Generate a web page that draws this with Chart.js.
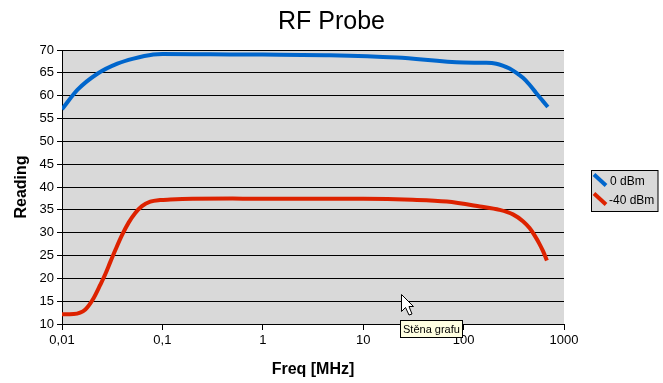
<!DOCTYPE html>
<html>
<head>
<meta charset="utf-8">
<style>html,body{margin:0;padding:0;background:#fff}canvas{display:block}</style>
<script src="https://cdn.jsdelivr.net/npm/chart.js@4"></script>
</head>
<body>
<canvas id="c" width="663" height="383"></canvas>
<script>
const chartTitle = "RF Probe";
const xTitle = "Freq [MHz]";
const yTitle = "Reading";
const tooltipText = "Stěna grafu";
const xTicks = [0.01, 0.1, 1, 10, 100, 1000];
const seriesNames = ["0 dBm", "-40 dBm"];
const seriesColors = ["#0066CC", "#DD2200"];
const freqBlue = [0.01,0.0143,0.0225,0.0356,0.0515,0.081,0.1,0.3,1,4.66,21.6,100,169,212,245,287,336,390,454,528,617,690];
const valBlue = [57,61.3,64.8,67,68.1,69,69.1,69.05,69,68.86,68.35,67.25,67.2,67,66.6,65.95,65,63.9,62.4,60.6,58.8,57.5];
const freqRed = [0.01,0.0131,0.0171,0.0207,0.0241,0.0271,0.0303,0.034,0.0397,0.0461,0.0537,0.0626,0.0758,0.095,0.12,0.2,0.5,1,10,31,68,145,228,310,390,454,509,571,617,676];
const valRed = [12.15,12.2,13.2,15.7,18.6,21,23.6,26.2,29.5,32.2,34.3,35.8,36.8,37.15,37.25,37.4,37.5,37.4,37.4,37.2,36.8,35.75,35,34,32.5,31,29.4,27.5,26,23.9];

const pairs = (xs, ys) => xs.map((x, i) => ({x, y: ys[i]}));

const decorations = {
  id: 'decorations',
  beforeDraw(chart) {
    const {ctx, chartArea: a} = chart;
    ctx.save();
    ctx.fillStyle = '#D9D9D9';
    ctx.fillRect(a.left, a.top, a.right - a.left, a.bottom - a.top);
    ctx.restore();
  },
  afterDraw(chart) {
    const {ctx} = chart;
    ctx.save();
    // legend box
    ctx.fillStyle = '#D9D9D9';
    ctx.strokeStyle = '#000';
    ctx.lineWidth = 1;
    ctx.fillRect(591.5, 170.5, 66.5, 41);
    ctx.strokeRect(591.5, 170.5, 66.5, 41);
    ctx.font = '12px "Liberation Sans"';
    ctx.textBaseline = 'middle';
    seriesNames.forEach((name, i) => {
      const y = 180 + i * 19;
      ctx.strokeStyle = seriesColors[i];
      ctx.lineWidth = 4;
      ctx.beginPath();
      ctx.moveTo(594, y - 5.5);
      ctx.lineTo(606, y + 5.5);
      ctx.stroke();
      ctx.fillStyle = '#000';
      ctx.fillText(name, i === 0 ? 610 : 609, y + 2);
    });
    // tooltip
    ctx.fillStyle = '#FFFFE1';
    ctx.strokeStyle = '#000';
    ctx.lineWidth = 1;
    ctx.fillRect(400.5, 320.5, 62, 17);
    ctx.strokeRect(400.5, 320.5, 62, 17);
    ctx.fillStyle = '#000';
    ctx.font = '11px "Liberation Sans"';
    ctx.fillText(tooltipText, 403, 330);
    // mouse cursor
    ctx.fillStyle = '#fff';
    ctx.strokeStyle = '#000';
    ctx.beginPath();
    [[401.5,294.5],[401.5,311.5],[405.5,307.5],[409,315],[412,314],[409,306.5],[413.5,306.5]]
      .forEach((p, i) => i ? ctx.lineTo(p[0], p[1]) : ctx.moveTo(p[0], p[1]));
    ctx.closePath();
    ctx.fill();
    ctx.stroke();
    ctx.restore();
  }
};

new Chart(document.getElementById('c'), {
  type: 'line',
  plugins: [decorations],
  data: {
    datasets: [
      {label: seriesNames[0], data: pairs(freqBlue, valBlue), borderColor: seriesColors[0]},
      {label: seriesNames[1], data: pairs(freqRed, valRed), borderColor: seriesColors[1]}
    ]
  },
  options: {
    responsive: false,
    animation: false,
    events: [],
    layout: {padding: 0},
    elements: {
      point: {radius: 0},
      line: {borderWidth: 4, cubicInterpolationMode: 'monotone', fill: false}
    },
    plugins: {
      legend: {display: false},
      tooltip: {enabled: false},
      title: {
        display: true,
        text: chartTitle,
        color: '#000',
        font: {family: '"Liberation Sans"', size: 25, weight: 'normal'},
        padding: {top: 7, bottom: 13}
      }
    },
    scales: {
      x: {
        type: 'logarithmic',
        min: 0.01,
        max: 1000,
        afterFit: s => { s.height = 59; },
        afterBuildTicks: s => { s.ticks = xTicks.map(v => ({value: v})); },
        grid: {drawOnChartArea: false, drawTicks: true, tickLength: 6, color: '#000', lineWidth: 1},
        border: {color: '#000', width: 1},
        ticks: {
          color: '#000',
          autoSkip: false,
          maxRotation: 0,
          padding: 3,
          font: {family: '"Liberation Sans"', size: 13},
          callback: v => String(v).replace('.', ',')
        },
        title: {
          display: true,
          text: xTitle,
          color: '#000',
          font: {family: '"Liberation Sans"', size: 16, weight: 'bold'},
          padding: {top: 8, bottom: 4}
        }
      },
      y: {
        type: 'linear',
        min: 10,
        max: 70,
        afterFit: s => { s.width = 62; },
        grid: {color: '#000', lineWidth: 1, tickLength: 5},
        border: {color: '#000', width: 1},
        ticks: {
          stepSize: 5,
          color: '#000',
          padding: 3,
          font: {family: '"Liberation Sans"', size: 13}
        },
        title: {
          display: true,
          text: yTitle,
          color: '#000',
          font: {family: '"Liberation Sans"', size: 16, weight: 'bold'},
          padding: {top: 12, bottom: 4}
        }
      },
      gutter: {
        type: 'linear',
        position: 'right',
        afterFit: s => { s.width = 99; },
        grid: {display: false},
        border: {display: false},
        ticks: {display: false}
      }
    }
  }
});
</script>
</body>
</html>
